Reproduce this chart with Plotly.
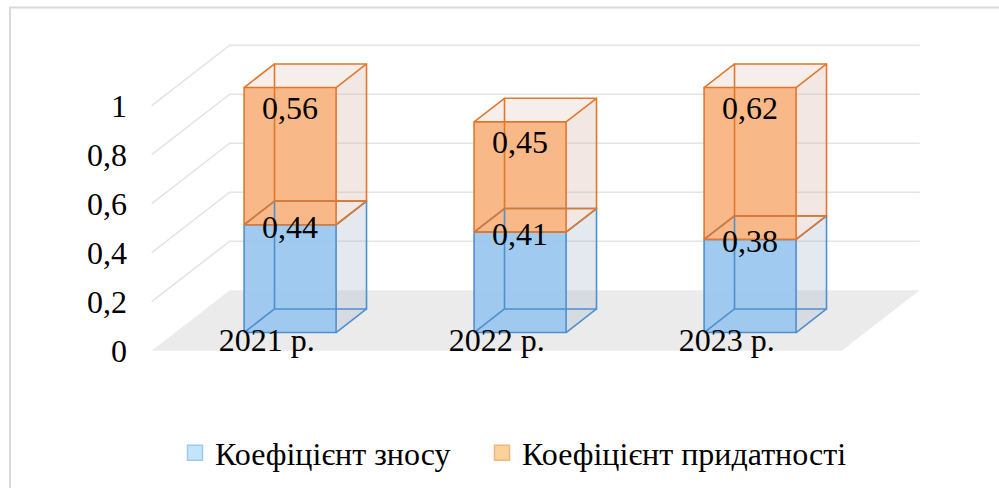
import plotly.graph_objects as go

# ---- data -------------------------------------------------------------
years = ["2021 р.", "2022 р.", "2023 р."]
wear = [0.44, 0.41, 0.38]          # Коефіцієнт зносу
usable = [0.56, 0.45, 0.62]        # Коефіцієнт придатності
series_names = ["Коефіцієнт зносу", "Коефіцієнт придатності"]
y_ticks = [0, 0.2, 0.4, 0.6, 0.8, 1]

# ---- geometry of the oblique (pseudo-3D) projection -------------------
W, H = 999, 488
ML = 128                      # left margin holding the value labels
FX0, FY0 = 151.7, 350.7       # front-left corner of the floor, px
CAT_PX = 230.0                # width of one category, px
UNIT_PX = 245.0               # height of 1.0 on the value scale, px
DEPTH_DX, DEPTH_DY = 78.0, 60.5
KX = DEPTH_DX / CAT_PX        # depth shift in category units
KY = DEPTH_DY / UNIT_PX       # depth shift in value units
BAR_W = 0.40
D_FRONT, D_BACK = 0.30, 0.69
N = len(years)

FONT = "Times New Roman, Liberation Serif, Tinos, serif"
FS = 32


def proj(c, v, d):
    """Category / value / depth -> plotting coordinates."""
    return c + d * KX, v + d * KY


def poly(points):
    xs, ys = zip(*points)
    return list(xs) + [xs[0]], list(ys) + [ys[0]]


fig = go.Figure()

# floor
fx, fy = poly([proj(0, 0, 0), proj(N, 0, 0), proj(N, 0, 1), proj(0, 0, 1)])
fig.add_trace(go.Scatter(x=fx, y=fy, mode="lines", fill="toself",
                         fillcolor="#ebebeb", line=dict(width=0),
                         showlegend=False, hoverinfo="skip"))

# side-wall and back-wall gridlines
gx, gy = [], []
for v in y_ticks[1:]:
    for p in (proj(0, v, 0), proj(0, v, 1), proj(N, v, 1)):
        gx.append(p[0]); gy.append(p[1])
    gx.append(None); gy.append(None)
fig.add_trace(go.Scatter(x=gx, y=gy, mode="lines",
                         line=dict(color="#e4e4e4", width=1.6),
                         showlegend=False, hoverinfo="skip"))

styles = [
    dict(front="rgba(152,198,238,0.92)", side="rgba(162,182,202,0.30)",
         top="rgba(200,215,230,0.35)", edge="#4e8fcf"),
    dict(front="rgba(248,180,130,0.95)", side="rgba(214,180,168,0.32)",
         top="rgba(228,205,196,0.35)", edge="#e2772b"),
]

fills, edges = [], []
for i in range(N):
    x0, x1 = i + 0.5 - BAR_W / 2, i + 0.5 + BAR_W / 2
    bottom = 0.0
    segs = [wear[i], usable[i]]
    for s, val in enumerate(segs):
        v0, v1 = bottom, bottom + val
        st = styles[s]
        F = lambda x, v: proj(x, v, D_FRONT)
        B = lambda x, v: proj(x, v, D_BACK)
        # right side face
        fills.append((poly([F(x1, v0), B(x1, v0), B(x1, v1), F(x1, v1)]), st["side"]))
        # top face of the stack
        if s == len(segs) - 1:
            fills.append((poly([F(x0, v1), F(x1, v1), B(x1, v1), B(x0, v1)]), st["top"]))
        # front face
        fills.append((poly([F(x0, v0), F(x1, v0), F(x1, v1), F(x0, v1)]), st["front"]))
        # the twelve box edges
        ex, ey = [], []
        rings = [[F(x0, v0), F(x1, v0), F(x1, v1), F(x0, v1), F(x0, v0)],
                 [B(x0, v0), B(x1, v0), B(x1, v1), B(x0, v1), B(x0, v0)]]
        for ring in rings:
            for p in ring:
                ex.append(p[0]); ey.append(p[1])
            ex.append(None); ey.append(None)
        for (xx, vv) in ((x0, v0), (x1, v0), (x1, v1), (x0, v1)):
            a, b = F(xx, vv), B(xx, vv)
            ex += [a[0], b[0], None]; ey += [a[1], b[1], None]
        edges.append((ex, ey, st["edge"]))
        bottom = v1

for (px, py), col in fills:
    fig.add_trace(go.Scatter(x=px, y=py, mode="lines", fill="toself",
                             fillcolor=col, line=dict(width=0),
                             showlegend=False, hoverinfo="skip"))
for ex, ey, col in edges:
    fig.add_trace(go.Scatter(x=ex, y=ey, mode="lines",
                             line=dict(color=col, width=1.6),
                             showlegend=False, hoverinfo="skip"))

# value labels on the front faces
def fmt(v):
    return f"{v:.2f}".replace(".", ",")

lab_x, lab_y, lab_t = [], [], []
for i in range(N):
    cx = proj(i + 0.5, 0, D_FRONT)[0]
    lab_x.append(cx); lab_y.append(proj(0, wear[i], D_FRONT)[1] - 0.02); lab_t.append(fmt(wear[i]))
    lab_x.append(cx); lab_y.append(proj(0, wear[i] + usable[i], D_FRONT)[1] - 0.096); lab_t.append(fmt(usable[i]))
fig.add_trace(go.Scatter(x=lab_x, y=lab_y, mode="text", text=lab_t,
                         textposition="middle center",
                         textfont=dict(family=FONT, size=FS, color="#000000"),
                         showlegend=False, hoverinfo="skip"))

# category labels along the front edge of the floor
fig.add_trace(go.Scatter(x=[i + 0.5 for i in range(N)], y=[0.031] * N,
                         mode="text", text=years, textposition="middle center",
                         textfont=dict(family=FONT, size=FS, color="#000000"),
                         showlegend=False, hoverinfo="skip"))

# legend entries
leg_cols = [("#c4e4fa", "#9ccaf0"), ("#fcd29b", "#f4b47a")]
for k, name in enumerate(series_names):
    fig.add_trace(go.Scatter(x=[None], y=[None], mode="markers", name=name,
                             marker=dict(symbol="square", size=15, color=leg_cols[k][0],
                                         line=dict(color=leg_cols[k][1], width=1.5)),
                             legend="legend" if k == 0 else "legend2"))

PW = W - ML
xr = [(ML - FX0) / CAT_PX, (W - FX0) / CAT_PX]
yr = [-(H - FY0) / UNIT_PX, FY0 / UNIT_PX]

leg_common = dict(orientation="h", yanchor="middle", xanchor="left",
                  y=(H - 453) / H, bgcolor="rgba(0,0,0,0)", itemwidth=30,
                  font=dict(family=FONT, size=FS, color="#000000"))

fig.update_layout(
    width=W, height=H,
    margin=dict(l=ML, r=0, t=0, b=0, pad=0),
    paper_bgcolor="white", plot_bgcolor="white",
    separators=", ",
    hovermode=False,
    font=dict(family=FONT),
    xaxis=dict(range=xr, visible=False, fixedrange=True),
    yaxis=dict(range=yr, tickvals=y_ticks, showgrid=False, zeroline=False,
               showline=False, ticks="", fixedrange=True,
               tickfont=dict(family=FONT, size=FS, color="#000000")),
    legend=dict(x=(175 - ML) / PW, **leg_common),
    legend2=dict(x=(482 - ML) / PW, **leg_common),
    shapes=[dict(type="rect", xref="paper", yref="paper",
                 x0=(10 - ML) / PW, x1=(1010 - ML) / PW,
                 y0=-0.05, y1=(H - 7.5) / H,
                 line=dict(color="#d9d9d9", width=2), layer="below")],
)

fig.write_html("out.html")
